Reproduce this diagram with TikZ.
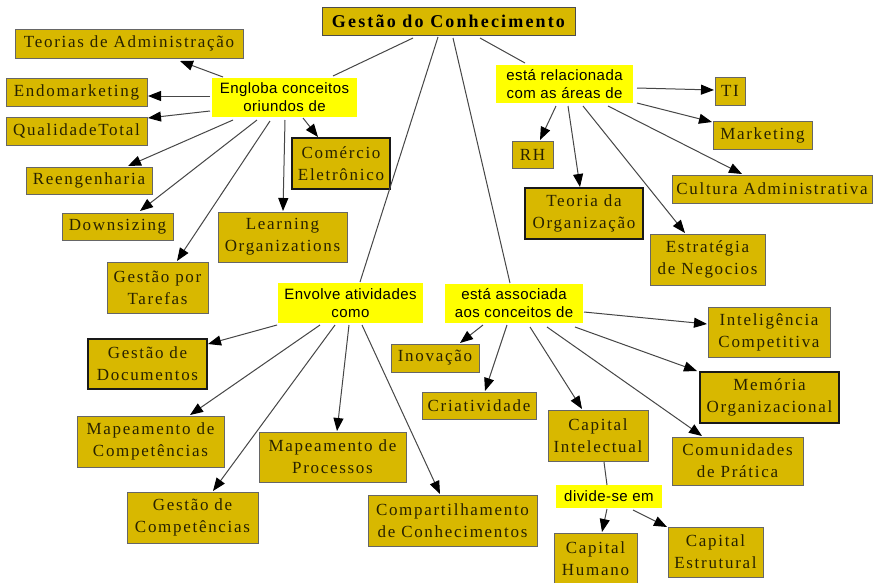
\documentclass[tikz,border=0pt]{standalone}
\usepackage{fontspec}
\usetikzlibrary{arrows.meta}
\newfontfamily\cmboxfont[LetterSpace=10]{Liberation Serif}
\newfontfamily\cmtitlefont[LetterSpace=12]{Liberation Serif}
\newfontfamily\cmlabelfont[LetterSpace=3]{Liberation Sans}
\definecolor{boxfill}{RGB}{216,184,0}
\definecolor{boxtext}{RGB}{40,34,0}
\definecolor{labfill}{RGB}{255,255,0}
\definecolor{wire}{RGB}{70,70,70}
\tikzset{
  concept/.style={draw=black!60, line width=0.8pt, fill=boxfill, inner sep=0pt,
    align=center, text=boxtext, font=\cmboxfont\fontsize{17}{22}\selectfont},
  conceptbold/.style={concept, draw=black!90, line width=1.6pt},
  linkword/.style={fill=labfill, inner sep=0pt, align=center, text=black,
    font=\cmlabelfont\fontsize{15}{18}\selectfont},
  headline/.style={draw=black!70, line width=0.8pt, fill=boxfill, inner sep=0pt,
    text=black, font=\cmtitlefont\bfseries\fontsize{18}{22}\selectfont},
  link/.style={draw=wire, line width=1pt},
  linkarrow/.style={link, -{Triangle[length=13pt,width=10pt,color=black]}},
}
\begin{document}
\begin{tikzpicture}[x=1pt,y=-1pt]
\useasboundingbox[fill=white] (0,0) rectangle (873,582);

% root concept
\node[headline, minimum width=253pt, minimum height=28pt] (root) at (448.5,21) {Gestão do Conhecimento};

% linking phrases
\node[linkword, minimum width=145pt, minimum height=39pt] (engl) at (284.5,97.5) {Engloba conceitos\\oriundos de};
\node[linkword, minimum width=137pt, minimum height=38pt] (rel) at (564.5,84) {está relacionada\\com as áreas de};
\node[linkword, minimum width=145pt, minimum height=40pt] (envol) at (350.5,303) {Envolve atividades\\como};
\node[linkword, minimum width=138pt, minimum height=39pt] (assoc) at (514,303.5) {está associada\\aos conceitos de};
\node[linkword, minimum width=106pt, minimum height=23pt] (divide) at (609,496.5) {divide-se em};

% concepts on the upper left
\node[concept, minimum width=228pt, minimum height=29pt] (teo) at (129,43.5) {Teorias de Administração};
\node[concept, minimum width=141pt, minimum height=28pt] (endo) at (76.5,92) {Endomarketing};
\node[concept, minimum width=141pt, minimum height=28pt] (qual) at (76.5,131) {QualidadeTotal};
\node[concept, minimum width=126pt, minimum height=27pt] (reen) at (89,180.5) {Reengenharia};
\node[concept, minimum width=111pt, minimum height=27pt] (down) at (117.5,226.5) {Downsizing};
\node[concept, minimum width=101pt, minimum height=51pt] (taref) at (157.5,287.5) {Gestão por\\Tarefas};
\node[concept, minimum width=129pt, minimum height=50pt] (learn) at (282.5,237) {Learning\\Organizations};
\node[conceptbold, minimum width=98pt, minimum height=51pt] (come) at (341,163.5) {Comércio\\Eletrônico};

% concepts on the upper right
\node[concept, minimum width=30pt, minimum height=28pt] (ti) at (730,91) {TI};
\node[concept, minimum width=99pt, minimum height=28pt] (mkt) at (762.5,135) {Marketing};
\node[concept, minimum width=41pt, minimum height=27pt] (rh) at (532.5,154.5) {RH};
\node[concept, minimum width=200pt, minimum height=28pt] (cult) at (772,189) {Cultura Administrativa};
\node[conceptbold, minimum width=118pt, minimum height=51pt] (teorg) at (584,213.5) {Teoria da\\Organização};
\node[concept, minimum width=115pt, minimum height=51pt] (estr) at (707.5,259.5) {Estratégia\\de Negocios};

% concepts on the lower left
\node[conceptbold, minimum width=119pt, minimum height=50pt] (gdoc) at (147.5,364) {Gestão de\\Documentos};
\node[concept, minimum width=147pt, minimum height=51pt] (mcomp) at (150.5,441.5) {Mapeamento de\\Competências};
\node[concept, minimum width=147pt, minimum height=50pt] (mproc) at (332.5,457) {Mapeamento de\\Processos};
\node[concept, minimum width=131pt, minimum height=51pt] (gcomp) at (192.5,517.5) {Gestão de\\Competências};
\node[concept, minimum width=169pt, minimum height=51pt] (comp) at (452.5,520.5) {Compartilhamento\\de Conhecimentos};

% concepts on the lower right
\node[concept, minimum width=88pt, minimum height=28pt] (inov) at (435,358) {Inovação};
\node[concept, minimum width=114pt, minimum height=27pt] (cria) at (479,405.5) {Criatividade};
\node[concept, minimum width=100pt, minimum height=51pt] (capint) at (598,435.5) {Capital\\Intelectual};
\node[concept, minimum width=122pt, minimum height=50pt] (intel) at (769,332) {Inteligência\\Competitiva};
\node[conceptbold, minimum width=139pt, minimum height=51pt] (mem) at (769.5,397.5) {Memória\\Organizacional};
\node[concept, minimum width=131pt, minimum height=48pt] (comu) at (737.5,461) {Comunidades\\de Prática};
\node[concept, minimum width=83pt, minimum height=51pt] (caphum) at (595.5,558.5) {Capital\\Humano};
\node[concept, minimum width=95pt, minimum height=50pt] (capest) at (715.5,552) {Capital\\Estrutural};

% root to linking phrases
\draw[link] ([shift={(-35.5,17)}]root.center) -- ([shift={(48.5,-21.5)}]engl.center);
\draw[link] ([shift={(-10.5,16)}]root.center) -- ([shift={(9.5,-21)}]envol.center);
\draw[link] ([shift={(4.5,17)}]root.center) -- ([shift={(-4,-20.5)}]assoc.center);
\draw[link] ([shift={(31.5,17)}]root.center) -- ([shift={(-39.5,-21)}]rel.center);

% Engloba conceitos oriundos de
\draw[linkarrow] ([shift={(-61.5,-20.5)}]engl.center) -- ([shift={(51,17.5)}]teo.center);
\draw[linkarrow] ([shift={(-74.5,-1.5)}]engl.center) -- ([shift={(71.5,4)}]endo.center);
\draw[linkarrow] ([shift={(-74.5,13.5)}]engl.center) -- ([shift={(71.5,-13)}]qual.center);
\draw[linkarrow] ([shift={(-51.5,22.5)}]engl.center) -- ([shift={(39,-14.5)}]reen.center);
\draw[linkarrow] ([shift={(-27.5,22.5)}]engl.center) -- ([shift={(22.5,-15.5)}]down.center);
\draw[linkarrow] ([shift={(-14.5,23.5)}]engl.center) -- ([shift={(19.5,-26.5)}]taref.center);
\draw[linkarrow] ([shift={(0.5,22.5)}]engl.center) -- ([shift={(0.5,-26)}]learn.center);
\draw[linkarrow] ([shift={(18.5,20.5)}]engl.center) -- ([shift={(-23,-26.5)}]come.center);

% está relacionada com as áreas de
\draw[linkarrow] ([shift={(72.5,4)}]rel.center) -- ([shift={(-16,-1)}]ti.center);
\draw[linkarrow] ([shift={(72.5,19)}]rel.center) -- ([shift={(-50.5,-13)}]mkt.center);
\draw[linkarrow] ([shift={(-8.5,22)}]rel.center) -- ([shift={(7.5,-14.5)}]rh.center);
\draw[linkarrow] ([shift={(3.5,22)}]rel.center) -- ([shift={(-4,-26.5)}]teorg.center);
\draw[linkarrow] ([shift={(18.5,22)}]rel.center) -- ([shift={(-22.5,-26.5)}]estr.center);
\draw[linkarrow] ([shift={(43.5,22)}]rel.center) -- ([shift={(-30,-15)}]cult.center);

% Envolve atividades como
\draw[linkarrow] ([shift={(-73.5,22)}]envol.center) -- ([shift={(60.5,-20)}]gdoc.center);
\draw[linkarrow] ([shift={(-30.5,22)}]envol.center) -- ([shift={(39.5,-26.5)}]mcomp.center);
\draw[linkarrow] ([shift={(-15.5,22)}]envol.center) -- ([shift={(20.5,-26.5)}]gcomp.center);
\draw[linkarrow] ([shift={(-1.5,22)}]envol.center) -- ([shift={(4.5,-26)}]mproc.center);
\draw[linkarrow] ([shift={(11.5,22)}]envol.center) -- ([shift={(-12.5,-26.5)}]comp.center);

% está associada aos conceitos de
\draw[linkarrow] ([shift={(-31,21.5)}]assoc.center) -- ([shift={(25,-15)}]inov.center);
\draw[linkarrow] ([shift={(-7,21.5)}]assoc.center) -- ([shift={(6,-14.5)}]cria.center);
\draw[linkarrow] ([shift={(16,23.5)}]assoc.center) -- ([shift={(-16,-26.5)}]capint.center);
\draw[linkarrow] ([shift={(33,23.5)}]assoc.center) -- ([shift={(-35.5,-25)}]comu.center);
\draw[linkarrow] ([shift={(61,23.5)}]assoc.center) -- ([shift={(-72.5,-26.5)}]mem.center);
\draw[linkarrow] ([shift={(70,8.5)}]assoc.center) -- ([shift={(-62,-8)}]intel.center);

% Capital Intelectual divide-se em
\draw[link] ([shift={(6,26.5)}]capint.center) -- ([shift={(-2,-11.5)}]divide.center);
\draw[linkarrow] ([shift={(-2,12.5)}]divide.center) -- ([shift={(6.5,-26.5)}]caphum.center);
\draw[linkarrow] ([shift={(24,13.5)}]divide.center) -- ([shift={(-48.5,-25)}]capest.center);
\end{tikzpicture}
\end{document}
